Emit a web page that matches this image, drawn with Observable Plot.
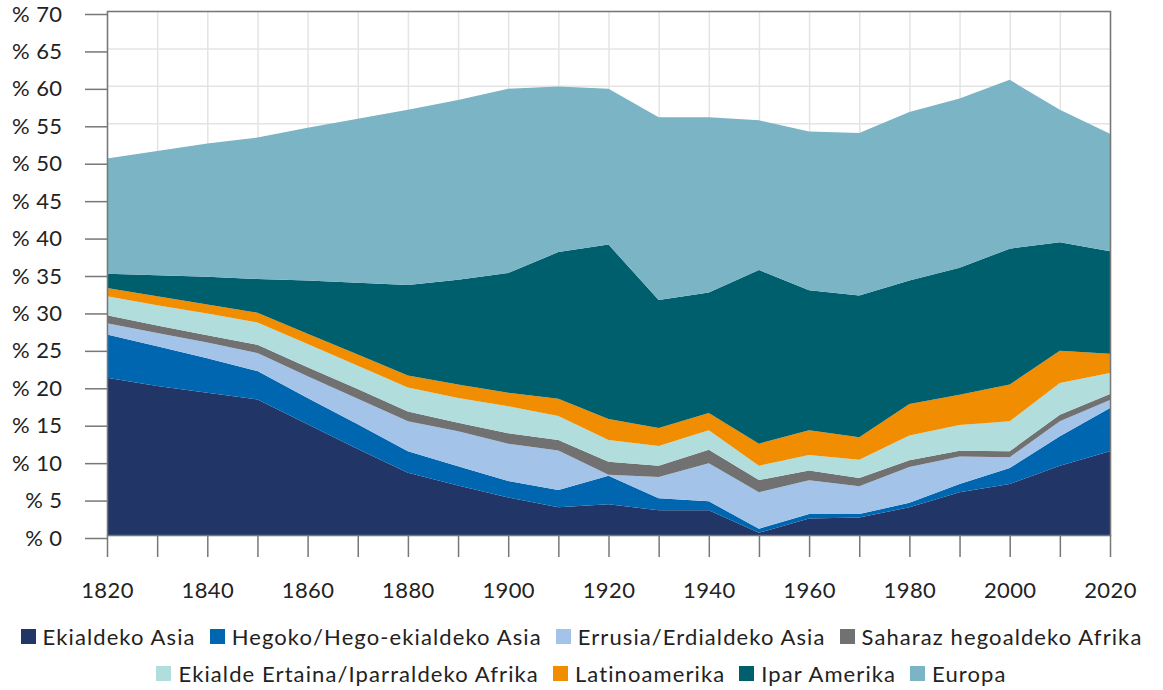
<!DOCTYPE html>
<html>
<head>
<meta charset="utf-8">
<script src="https://cdn.jsdelivr.net/npm/d3@7"></script>
<script src="https://cdn.jsdelivr.net/npm/@observablehq/plot@0.6"></script>
<style>
  html, body { margin: 0; padding: 0; background: #fff; }
  body { width: 1163px; height: 690px; overflow: hidden; font-family: Lato, "Noto Sans", sans-serif; color: #222; }
  #chart svg { display: block; }
  .legend { width: 1163px; font-size: 22px; letter-spacing: 1.1px; padding-top: 3px; }
  .row { display: flex; justify-content: center; align-items: center; height: 37px; white-space: nowrap; }
  .item { display: flex; align-items: center; margin: 0 7px; }
  .sw { width: 15px; height: 15px; margin-right: 7px; flex: none; }
</style>
</head>
<body>
<div id="chart"></div>
<div class="legend" id="legend"></div>
<script>
const years = [1820,1830,1840,1850,1860,1870,1880,1890,1900,1910,1920,1930,1940,1950,1960,1970,1980,1990,2000,2010,2020];

const seriesNames = [
  "Ekialdeko Asia",
  "Hegoko/Hego-ekialdeko Asia",
  "Errusia/Erdialdeko Asia",
  "Saharaz hegoaldeko Afrika",
  "Ekialde Ertaina/Iparraldeko Afrika",
  "Latinoamerika",
  "Ipar Amerika",
  "Europa"
];

const seriesColors = ["#213566", "#0066b0", "#a3c4e8", "#717171", "#b1dddd", "#f18d00", "#005f6d", "#7ab4c5"];

const ekialdekoAsia   = [21.0,19.9,19.0,18.1,14.8,11.5,8.3,6.6,5.0,3.7,4.1,3.3,3.3,0.3,2.2,2.35,3.7,5.7,6.8,9.25,11.2];
const hegoAsia        = [5.8,5.3,4.6,3.8,3.5,3.3,2.9,2.6,2.2,2.3,3.8,1.6,1.2,0.55,0.6,0.45,0.6,1.1,2.15,3.95,5.75];
const errusia         = [1.5,1.8,2.1,2.4,2.9,3.4,4.0,4.65,5.0,5.3,0.15,2.85,5.1,4.85,4.5,3.7,4.8,3.7,1.45,2.0,1.1];
const saharaz         = [1.05,1.0,1.0,1.1,1.2,1.3,1.3,1.15,1.4,1.4,1.75,1.5,1.8,1.65,1.3,1.1,0.9,0.75,0.8,0.85,0.8];
const ekialdeErtaina  = [2.55,2.7,2.9,3.0,3.1,3.1,3.2,3.3,3.6,3.2,2.9,2.65,2.6,1.9,2.1,2.45,3.3,3.45,4.0,4.25,2.8];
const latinoamerika   = [1.1,1.2,1.2,1.3,1.4,1.5,1.6,1.8,1.8,2.3,2.8,2.4,2.3,2.95,3.3,3.0,4.2,4.05,4.9,4.3,2.55];
const iparAmerika     = [1.9,2.8,3.7,4.5,7.1,9.6,12.1,14.0,16.0,19.6,23.3,17.1,16.1,23.2,18.7,18.95,16.5,16.95,18.15,14.5,13.7];
const europa          = [15.4,16.6,17.8,18.9,20.4,21.9,23.4,24.0,24.6,22.1,20.8,24.4,23.4,20.0,21.2,21.7,22.5,22.6,22.55,17.7,15.7];

const yTicks = [0,5,10,15,20,25,30,35,40,45,50,55,60,65,70];
const xTicks = years;

const seriesValues = [ekialdekoAsia, hegoAsia, errusia, saharaz, ekialdeErtaina, latinoamerika, iparAmerika, europa];
const data = seriesNames.flatMap((name, i) =>
  seriesValues[i].map((v, j) => ({year: years[j], series: name, value: v}))
);

const chart = Plot.plot({
  width: 1163,
  height: 615,
  marginLeft: 107,
  marginRight: 53,
  marginTop: 11,
  marginBottom: 80,
  style: {fontFamily: "Lato, 'Noto Sans', sans-serif", fontSize: "22px", color: "#222", background: "#fff", letterSpacing: "0.4px"},
  x: {domain: [1820, 2020], axis: null},
  y: {domain: [0, 70], axis: null},
  color: {domain: seriesNames, range: seriesColors},
  marks: [
    Plot.gridX(xTicks, {stroke: "#e4e4e4", strokeOpacity: 1, strokeWidth: 1.5}),
    Plot.gridY(yTicks, {stroke: "#e4e4e4", strokeOpacity: 1, strokeWidth: 1.5}),
    Plot.areaY(data, {x: "year", y: "value", fill: "series", order: seriesNames}),
    Plot.axisY(yTicks, {label: null, tickSize: 22, tickPadding: 23, tickFormat: d => `% ${d}`, stroke: "#777", strokeWidth: 1.5, fill: "#222", dy: 3}),
    Plot.axisX(xTicks, {label: null, tickSize: 22, tickPadding: 25, tickFormat: d => (d % 20 === 0 ? String(d) : ""), stroke: "#777", strokeWidth: 1.5, fill: "#222"}),
    Plot.frame({stroke: "#777", strokeWidth: 1.5})
  ]
});
document.getElementById("chart").appendChild(chart);

const rows = [[0,1,2,3],[4,5,6,7]];
const legend = document.getElementById("legend");
rows.forEach(r => {
  const row = document.createElement("div");
  row.className = "row";
  r.forEach(i => {
    const item = document.createElement("div");
    item.className = "item";
    const sw = document.createElement("span");
    sw.className = "sw";
    sw.style.background = seriesColors[i];
    const t = document.createElement("span");
    t.textContent = seriesNames[i];
    item.appendChild(sw);
    item.appendChild(t);
    row.appendChild(item);
  });
  legend.appendChild(row);
});
</script>
</body>
</html>
